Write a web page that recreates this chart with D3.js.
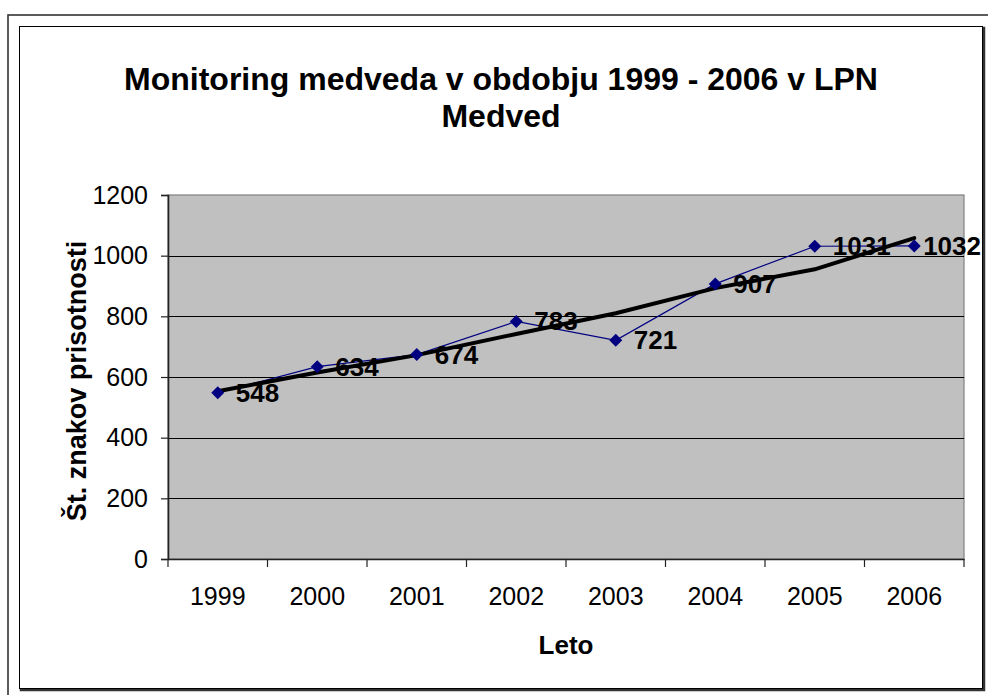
<!DOCTYPE html>
<html><head><meta charset="utf-8">
<script src="https://cdn.jsdelivr.net/npm/d3@7"></script>
<style>html,body{margin:0;padding:0;background:#fff;}svg{display:block;font-family:"Liberation Sans",Arial,sans-serif;}</style>
</head><body><svg id="c" width="988" height="695"></svg>
<script>
const years = ["1999","2000","2001","2002","2003","2004","2005","2006"];
const values = [548, 634, 674, 783, 721, 907, 1031, 1032];
const trendValues = [553, 615, 672, 742, 810, 893, 955, 1058];
const yTicks = [0, 200, 400, 600, 800, 1000, 1200];
const titleLines = ["Monitoring medveda v obdobju 1999 - 2006 v LPN", "Medved"];
const yTitle = "Št. znakov prisotnosti";
const xTitle = "Leto";

const svg = d3.select("#c");
const L = 168, R = 964, T = 195, B = 559;

// frames
svg.append("rect").attr("x",8).attr("y",15).attr("width",1000).attr("height",700)
  .attr("fill","none").attr("stroke","#333").attr("stroke-width",1.6);
svg.append("rect").attr("x",21).attr("y",28).attr("width",963).attr("height",662)
  .attr("fill","none").attr("stroke","#333").attr("stroke-width",2.5);
svg.append("rect").attr("x",19.5).attr("y",26.5).attr("width",963).attr("height",662)
  .attr("fill","#fff").attr("stroke","#000").attr("stroke-width",1);

const x = d3.scaleBand().domain(years).range([L, R]).padding(0);
const y = d3.scaleLinear().domain([0, 1200]).range([B, T]);

// plot area
svg.append("rect").attr("x",L).attr("y",T).attr("width",R-L).attr("height",B-T)
  .attr("fill","#c0c0c0").attr("stroke","#808080").attr("stroke-width",1.2);

// gridlines
svg.append("g").selectAll("line").data(yTicks.filter(d => d > 0 && d < 1200)).join("line")
  .attr("x1",L).attr("x2",R).attr("y1",d=>Math.round(y(d))+0.5).attr("y2",d=>Math.round(y(d))+0.5)
  .attr("stroke","#000").attr("stroke-width",1);

// y axis
const ya = svg.append("g").attr("transform",`translate(${L},0)`)
  .call(d3.axisLeft(y).tickValues(yTicks).tickSize(7).tickPadding(13).tickFormat(d3.format("d")));
ya.select(".domain").attr("stroke","#222").attr("stroke-width",1.6);
ya.selectAll(".tick line").attr("stroke","#222").attr("stroke-width",1.2);
ya.selectAll("text").attr("font-size",25).attr("fill","#000").attr("font-family","Liberation Sans, Arial, sans-serif");

// x axis
const xa = svg.append("g").attr("transform",`translate(0,${B})`)
  .call(d3.axisBottom(x).tickSize(0).tickPadding(28));
xa.select(".domain").attr("stroke","#222").attr("stroke-width",1.6);
xa.selectAll("text").attr("font-size",25).attr("fill","#000").attr("font-family","Liberation Sans, Arial, sans-serif");
// category boundary ticks
const bounds = years.map(d => x(d)).concat([x(years[years.length-1]) + x.bandwidth()]);
svg.append("g").selectAll("line").data(bounds).join("line")
  .attr("x1",d=>d).attr("x2",d=>d).attr("y1",B).attr("y2",B+8)
  .attr("stroke","#222").attr("stroke-width",1.2);

const cx = d => x(d) + x.bandwidth()/2;

// data line
svg.append("path").datum(values)
  .attr("d", d3.line().x((d,i)=>cx(years[i])).y(d=>y(d)))
  .attr("fill","none").attr("stroke","#000080").attr("stroke-width",1.2);

// trend line
svg.append("path").datum(trendValues)
  .attr("d", d3.line().x((d,i)=>cx(years[i])).y(d=>y(d)))
  .attr("fill","none").attr("stroke","#000").attr("stroke-width",4).attr("stroke-linecap","round");

// markers
svg.append("g").selectAll("path").data(values).join("path")
  .attr("transform",(d,i)=>`translate(${cx(years[i])},${y(d)})`)
  .attr("d","M0,-6.5L6.5,0L0,6.5L-6.5,0Z").attr("fill","#000080");

// data labels (kept inside the chart frame)
const maxRight = 981;
svg.append("g").selectAll("text").data(values).join("text")
  .attr("x",(d,i)=>cx(years[i]) + 18).attr("y",d=>y(d) + 9)
  .attr("font-size",26).attr("font-weight","bold").attr("fill","#000").text(d=>d)
  .each(function(){
    const el = d3.select(this);
    const w = this.getComputedTextLength();
    const x0 = +el.attr("x");
    if (x0 + w > maxRight) el.attr("x", maxRight - w);
  });

// title
svg.append("g").selectAll("text").data(titleLines).join("text")
  .attr("x",501).attr("y",(d,i)=>90 + i*37).attr("text-anchor","middle")
  .attr("font-size",32).attr("font-weight","bold").attr("fill","#000").text(d=>d);

// axis titles
svg.append("text").attr("transform",`translate(86,${(T+B)/2+4}) rotate(-90)`)
  .attr("text-anchor","middle").attr("font-size",27).attr("font-weight","bold").text(yTitle);
svg.append("text").attr("x",(L+R)/2).attr("y",654).attr("text-anchor","middle")
  .attr("font-size",26).attr("font-weight","bold").text(xTitle);
</script></body></html>
